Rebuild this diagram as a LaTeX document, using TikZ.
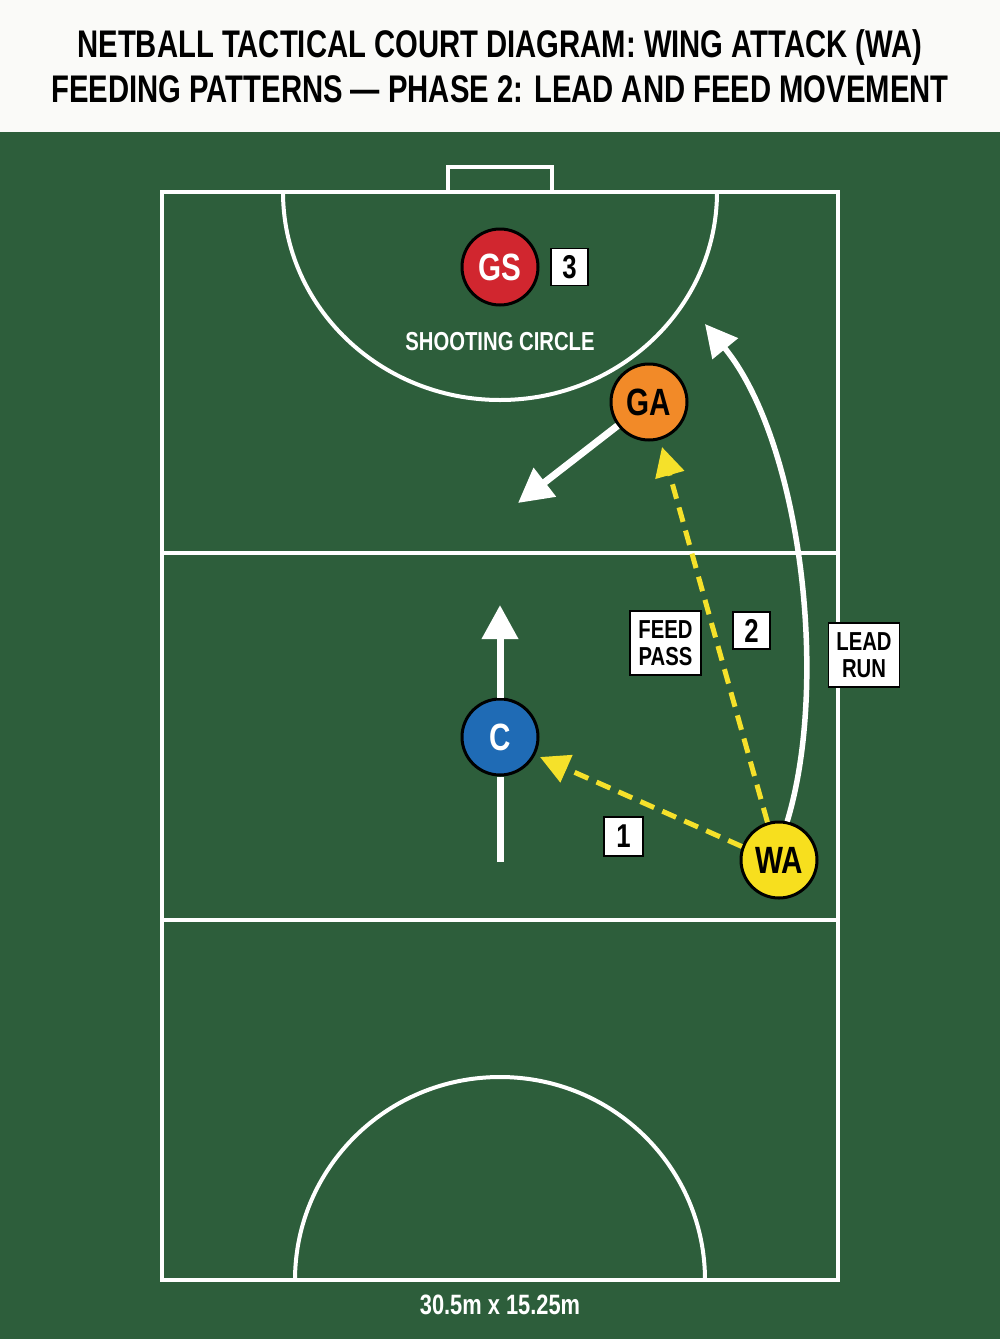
\documentclass[tikz,border=0pt]{standalone}
\usepackage{fontspec}
\setmainfont[FakeStretch=0.78]{Liberation Sans}
\newfontfamily\titlefont[FakeStretch=0.76]{Liberation Sans}
\usetikzlibrary{arrows.meta}
\definecolor{turf}{HTML}{2D5E3B}
\definecolor{paper}{HTML}{FAFAF8}
\definecolor{gsred}{HTML}{D1262F}
\definecolor{gaorange}{HTML}{F28A28}
\definecolor{cblue}{HTML}{1F6BB5}
\definecolor{wayellow}{HTML}{F7DF1E}
\definecolor{passyellow}{HTML}{F5E12A}
\tikzset{
  courtline/.style={draw=white, line width=4pt},
  player/.style={circle, draw=black, line width=3pt, minimum size=76pt, inner sep=0pt, font=\fontsize{38}{40}\selectfont\bfseries},
  numtag/.style={draw=black, fill=white, line width=1.5pt, inner sep=0pt, minimum size=37pt, font=\fontsize{33}{33}\selectfont\bfseries},
  wordtag/.style={draw=black, fill=white, line width=1.5pt, inner sep=0pt, minimum width=71pt, minimum height=64pt, font=\fontsize{26}{27}\selectfont\bfseries, align=center},
  runarrow/.style={draw=white, line width=7pt, -{Triangle[width=35pt,length=34pt]}},
  leadarrow/.style={draw=white, line width=5.5pt, -{Triangle[width=32pt,length=32pt]}},
  passarrow/.style={draw=passyellow, line width=5pt, dash pattern=on 15pt off 9pt, -{Triangle[width=29pt,length=29pt]}},
}
\begin{document}
\begin{tikzpicture}[x=1pt,y=-1pt]
\useasboundingbox (0,0) rectangle (1000,1339);
\fill[paper] (0,0) rectangle (1000,132);
\fill[turf] (0,132) rectangle (1000,1339);
% title
\node (t1) at (500,48) {\titlefont\fontsize{38.5}{42}\selectfont\bfseries NETBALL TACTICAL COURT DIAGRAM: WING ATTACK (WA)};
\node (t2) at (500,89) {\titlefont\fontsize{38.5}{42}\selectfont\bfseries FEEDING PATTERNS — PHASE 2: LEAD AND FEED MOVEMENT};
% court
\draw[courtline] (448,192) -- (448,167) -- (552,167) -- (552,192);
\draw[courtline] (162,192) rectangle (838,1280);
\draw[courtline] (162,553) -- (838,553);
\draw[courtline] (162,920) -- (838,920);
\draw[courtline] (283,192) arc[start angle=180, end angle=360, x radius=217, y radius=-208];
\draw[courtline] (295,1280) arc[start angle=180, end angle=0, x radius=205, y radius=-203];
\node[text=white, font=\fontsize{26}{26}\selectfont\bfseries] (sc) at (500,342) {SHOOTING CIRCLE};
\node[text=white, font=\fontsize{28}{28}\selectfont\bfseries] (dim) at (500,1305) {30.5m x 15.25m};
% players
\node[player, fill=gsred, text=white] (GS) at (500,267) {GS};
\node[player, fill=gaorange, text=black] (GA) at (649,402) {GA};
\node[player, fill=cblue, text=white] (C) at (500,737) {C};
\node[player, fill=wayellow, text=black] (WA) at (779,860) {WA};
% movement
\coordinate (gaend) at (518,503);
\draw[runarrow] (GA.217) -- (gaend);
\coordinate (cbot) at (500,862);
\coordinate (ctop) at (500,605);
\draw[draw=white, line width=7pt] (cbot) -- (C.south);
\draw[runarrow] (C.north) -- (ctop);
\coordinate (leadtip) at (705,324);
\draw[leadarrow] (WA.78) .. controls (830,680) and (800,440) .. (leadtip);
% passes
\coordinate (p1tip) at (540,757);
\coordinate (p2tip) at (662,447);
\draw[passarrow] (WA.160) -- (p1tip);
\draw[passarrow] (WA.107) -- (p2tip);
% tags
\node[numtag] (n3) at (569.5,267) {3};
\node[numtag, minimum size=39pt] (n1) at (623.5,836.5) {1};
\node[numtag] (n2) at (751.5,630.5) {2};
\node[wordtag] (fp) at (665.5,643) {FEED\\PASS};
\node[wordtag] (lr) at (864,655) {LEAD\\RUN};
\end{tikzpicture}
\end{document}
